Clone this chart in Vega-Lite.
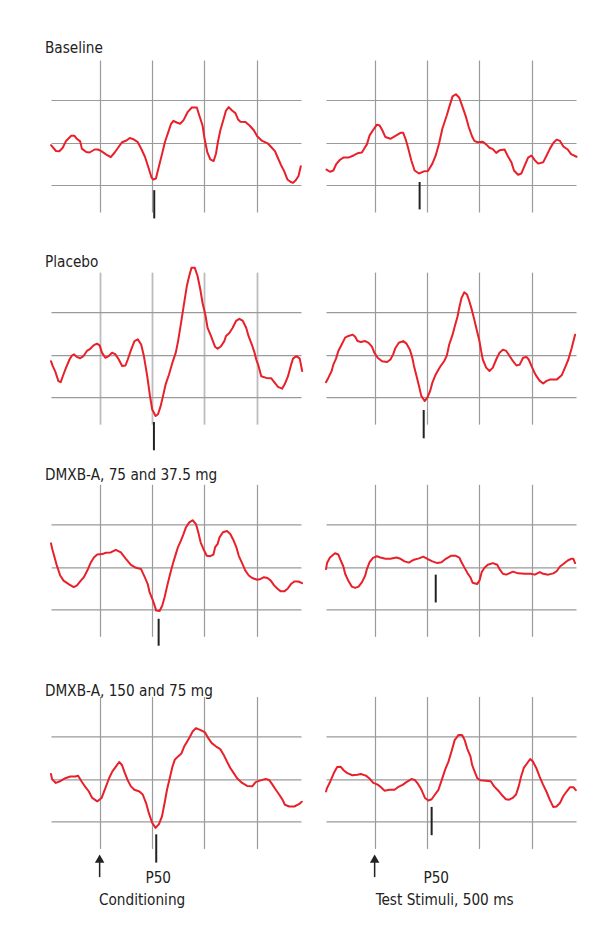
{
"$schema": "https://vega.github.io/schema/vega-lite/v6.json",
"background": "white",
"padding": {"left": 45, "top": 41, "right": 0, "bottom": 0},
"autosize": {"type": "pad"},
"config": {
  "view": {"stroke": null},
  "mark": {"clip": false},
  "axis": {"grid": true, "domain": false, "ticks": false, "labels": false, "title": null, "gridColor": "#9a9a9a", "gridWidth": 1.2, "gridOpacity": 1},
  "title": {"font": "DejaVu Sans Condensed", "fontSize": 15.2, "fontWeight": "normal", "color": "#222222", "anchor": "start", "frame": "group", "dx": -6, "baseline": "alphabetic"},
  "text": {"font": "DejaVu Sans Condensed", "fontSize": 15.2, "color": "#222222"},
  "line": {"color": "#e8202a", "strokeWidth": 2, "strokeJoin": "round", "strokeCap": "round", "clip": false}
},
"columns": 2,
"spacing": {"row": 60.15, "column": 25},
"bounds": "flush",
"datasets": {
"bc": [{"t":-46.5,"v":-0.06},{"t":-41.7,"v":-0.195},{"t":-38.5,"v":-0.2},{"t":-35.3,"v":-0.12},{"t":-32.1,"v":0.04},{"t":-27.2,"v":0.16},{"t":-24,"v":0.16},{"t":-21.8,"v":0.09},{"t":-18.6,"v":0.03},{"t":-17,"v":-0.14},{"t":-12.8,"v":-0.22},{"t":-9.6,"v":-0.23},{"t":-4.8,"v":-0.16},{"t":-1.6,"v":-0.16},{"t":1.6,"v":-0.2},{"t":6.4,"v":-0.28},{"t":10.6,"v":-0.34},{"t":14.4,"v":-0.23},{"t":17.6,"v":-0.12},{"t":21.5,"v":0.01},{"t":25.6,"v":0.05},{"t":28.8,"v":0.11},{"t":32.1,"v":0.08},{"t":36.2,"v":0.02},{"t":40.1,"v":-0.16},{"t":43.3,"v":-0.33},{"t":46.5,"v":-0.57},{"t":49.7,"v":-0.82},{"t":51.3,"v":-0.86},{"t":53.8,"v":-0.84},{"t":56.1,"v":-0.61},{"t":59.3,"v":-0.3},{"t":62.5,"v":0.02},{"t":65.7,"v":0.25},{"t":68.3,"v":0.44},{"t":70.5,"v":0.51},{"t":73.7,"v":0.47},{"t":76.9,"v":0.44},{"t":80.1,"v":0.52},{"t":84.3,"v":0.72},{"t":88.1,"v":0.82},{"t":92.9,"v":0.82},{"t":95.2,"v":0.64},{"t":98.4,"v":0.4},{"t":100.3,"v":0.09},{"t":102.9,"v":-0.22},{"t":105.8,"v":-0.39},{"t":109,"v":-0.43},{"t":111.2,"v":-0.26},{"t":113.1,"v":0.02},{"t":115.4,"v":0.29},{"t":118.6,"v":0.56},{"t":120.8,"v":0.75},{"t":123.4,"v":0.83},{"t":126.6,"v":0.75},{"t":129.8,"v":0.69},{"t":132.4,"v":0.54},{"t":134.6,"v":0.49},{"t":139.4,"v":0.48},{"t":143.3,"v":0.4},{"t":147.4,"v":0.29},{"t":150.6,"v":0.15},{"t":155.4,"v":0.04},{"t":160.3,"v":-0.01},{"t":163.5,"v":-0.09},{"t":167.6,"v":-0.2},{"t":169.9,"v":-0.33},{"t":173.1,"v":-0.51},{"t":176.3,"v":-0.66},{"t":179.5,"v":-0.86},{"t":182.7,"v":-0.92},{"t":184.9,"v":-0.94},{"t":187.5,"v":-0.88},{"t":190.1,"v":-0.78},{"t":192.3,"v":-0.55}],
"bt": [{"t":-46,"v":-0.63},{"t":-42.7,"v":-0.68},{"t":-39.5,"v":-0.65},{"t":-36.9,"v":-0.51},{"t":-33.1,"v":-0.4},{"t":-29.9,"v":-0.35},{"t":-25,"v":-0.35},{"t":-20.2,"v":-0.3},{"t":-15.4,"v":-0.24},{"t":-12.2,"v":-0.23},{"t":-9,"v":-0.1},{"t":-7.4,"v":-0.04},{"t":-4.8,"v":0.17},{"t":-1.6,"v":0.29},{"t":2.2,"v":0.42},{"t":4.8,"v":0.4},{"t":7.1,"v":0.3},{"t":10.3,"v":0.13},{"t":15.1,"v":0.09},{"t":19.9,"v":0.16},{"t":24.7,"v":0.23},{"t":27.3,"v":0.23},{"t":29.5,"v":0.09},{"t":31.8,"v":-0.1},{"t":35,"v":-0.41},{"t":38.2,"v":-0.65},{"t":42.4,"v":-0.72},{"t":47.2,"v":-0.67},{"t":51,"v":-0.66},{"t":55.2,"v":-0.49},{"t":58.4,"v":-0.3},{"t":61.6,"v":-0.02},{"t":64.8,"v":0.33},{"t":69,"v":0.64},{"t":71.3,"v":0.83},{"t":74.5,"v":1.08},{"t":77.7,"v":1.13},{"t":80.9,"v":1.05},{"t":84.1,"v":0.83},{"t":87.3,"v":0.6},{"t":89.9,"v":0.37},{"t":93.1,"v":0.15},{"t":95.3,"v":0.04},{"t":98.5,"v":0.01},{"t":103.4,"v":0.02},{"t":106.6,"v":-0.04},{"t":109.8,"v":-0.12},{"t":113,"v":-0.15},{"t":116.2,"v":-0.24},{"t":119.4,"v":-0.18},{"t":124.2,"v":-0.16},{"t":127.4,"v":-0.32},{"t":130.6,"v":-0.45},{"t":133.2,"v":-0.65},{"t":137.1,"v":-0.75},{"t":140.3,"v":-0.72},{"t":143.5,"v":-0.53},{"t":146.7,"v":-0.35},{"t":149.9,"v":-0.3},{"t":153.1,"v":-0.41},{"t":156.3,"v":-0.49},{"t":161.1,"v":-0.46},{"t":164.4,"v":-0.3},{"t":167.6,"v":-0.14},{"t":170.8,"v":-0.01},{"t":174,"v":0.07},{"t":177.2,"v":0.04},{"t":180.4,"v":-0.09},{"t":184.6,"v":-0.16},{"t":187.8,"v":-0.27},{"t":193,"v":-0.33}],
"pc": [{"t":-46.5,"v":-0.15},{"t":-44.9,"v":-0.26},{"t":-42.6,"v":-0.38},{"t":-39.4,"v":-0.615},{"t":-37.2,"v":-0.64},{"t":-34.6,"v":-0.46},{"t":-32.1,"v":-0.3},{"t":-28.8,"v":-0.11},{"t":-26.6,"v":-0.02},{"t":-24.4,"v":0.01},{"t":-21.8,"v":-0.05},{"t":-18.6,"v":-0.08},{"t":-15.4,"v":-0.03},{"t":-12.2,"v":0.09},{"t":-9,"v":0.14},{"t":-5.8,"v":0.22},{"t":-2.6,"v":0.26},{"t":0,"v":0.22},{"t":2.2,"v":0.05},{"t":5.4,"v":-0.07},{"t":8.7,"v":-0.03},{"t":11.9,"v":0.05},{"t":15.1,"v":0.01},{"t":18.3,"v":-0.11},{"t":21.5,"v":-0.26},{"t":24.7,"v":-0.25},{"t":26.9,"v":-0.11},{"t":30.1,"v":0.12},{"t":33.3,"v":0.32},{"t":36.5,"v":0.36},{"t":39.7,"v":0.24},{"t":42.3,"v":-0.03},{"t":45.5,"v":-0.5},{"t":48.1,"v":-0.96},{"t":50.3,"v":-1.28},{"t":53.5,"v":-1.43},{"t":55.8,"v":-1.39},{"t":58.3,"v":-1.2},{"t":60.9,"v":-0.93},{"t":63.1,"v":-0.69},{"t":66.3,"v":-0.46},{"t":69.5,"v":-0.19},{"t":72.8,"v":0.05},{"t":75,"v":0.32},{"t":77.6,"v":0.71},{"t":80.1,"v":1.1},{"t":83.3,"v":1.6},{"t":85.6,"v":1.84},{"t":87.8,"v":2.03},{"t":91,"v":2.03},{"t":93.6,"v":1.84},{"t":96.2,"v":1.53},{"t":98.4,"v":1.21},{"t":101,"v":0.94},{"t":103.2,"v":0.63},{"t":106.4,"v":0.44},{"t":110.3,"v":0.19},{"t":112.8,"v":0.14},{"t":116,"v":0.2},{"t":119.2,"v":0.32},{"t":120.8,"v":0.44},{"t":124,"v":0.51},{"t":127.2,"v":0.63},{"t":130.4,"v":0.79},{"t":133.6,"v":0.84},{"t":136.9,"v":0.79},{"t":140.1,"v":0.63},{"t":142.3,"v":0.44},{"t":145.5,"v":0.24},{"t":148.1,"v":0.05},{"t":149.7,"v":-0.11},{"t":151.9,"v":-0.26},{"t":154.5,"v":-0.5},{"t":159.3,"v":-0.54},{"t":164.1,"v":-0.55},{"t":167.3,"v":-0.65},{"t":170.5,"v":-0.75},{"t":174.4,"v":-0.79},{"t":176.9,"v":-0.69},{"t":180.1,"v":-0.5},{"t":182.7,"v":-0.26},{"t":184.9,"v":-0.09},{"t":188.1,"v":-0.03},{"t":191.3,"v":-0.09},{"t":193.6,"v":-0.38}],
"pt": [{"t":-46.5,"v":-0.64},{"t":-44.3,"v":-0.54},{"t":-41.1,"v":-0.38},{"t":-39.5,"v":-0.23},{"t":-36.9,"v":-0.09},{"t":-34.7,"v":0.09},{"t":-31.5,"v":0.24},{"t":-28.2,"v":0.4},{"t":-25,"v":0.44},{"t":-20.9,"v":0.47},{"t":-18.6,"v":0.42},{"t":-16.4,"v":0.32},{"t":-13.2,"v":0.3},{"t":-9,"v":0.32},{"t":-5.8,"v":0.28},{"t":-2.6,"v":0.19},{"t":-0.3,"v":0.05},{"t":2.9,"v":-0.07},{"t":7.1,"v":-0.15},{"t":11.9,"v":-0.17},{"t":15.1,"v":-0.11},{"t":17.7,"v":0.01},{"t":19.9,"v":0.16},{"t":23.1,"v":0.28},{"t":27.3,"v":0.32},{"t":30.5,"v":0.26},{"t":33.7,"v":0.12},{"t":36,"v":-0.07},{"t":37.6,"v":-0.26},{"t":40.1,"v":-0.5},{"t":42.4,"v":-0.73},{"t":44.6,"v":-0.96},{"t":47.8,"v":-1.08},{"t":50.4,"v":-1},{"t":53,"v":-0.85},{"t":55.2,"v":-0.65},{"t":58.4,"v":-0.46},{"t":62.6,"v":-0.28},{"t":66.4,"v":-0.15},{"t":69,"v":-0.02},{"t":71.3,"v":0.24},{"t":74.5,"v":0.47},{"t":76.7,"v":0.67},{"t":79.3,"v":0.9},{"t":80.9,"v":1.1},{"t":83.1,"v":1.33},{"t":85.7,"v":1.46},{"t":88.3,"v":1.41},{"t":90.5,"v":1.25},{"t":92.8,"v":1.06},{"t":95.3,"v":0.82},{"t":97.9,"v":0.55},{"t":100.2,"v":0.32},{"t":101.8,"v":0.09},{"t":103.4,"v":-0.11},{"t":106.6,"v":-0.3},{"t":109.8,"v":-0.38},{"t":113,"v":-0.3},{"t":116.2,"v":-0.11},{"t":119.4,"v":0.05},{"t":122.6,"v":0.12},{"t":125.8,"v":0.09},{"t":129,"v":-0.03},{"t":132.3,"v":-0.15},{"t":135.5,"v":-0.25},{"t":138.7,"v":-0.23},{"t":141.9,"v":-0.07},{"t":145.1,"v":-0.05},{"t":147.3,"v":-0.11},{"t":149.9,"v":-0.26},{"t":152.5,"v":-0.4},{"t":154.7,"v":-0.5},{"t":157.9,"v":-0.61},{"t":161.1,"v":-0.67},{"t":164.4,"v":-0.61},{"t":167.6,"v":-0.58},{"t":174,"v":-0.58},{"t":178.8,"v":-0.48},{"t":182,"v":-0.3},{"t":185.2,"v":-0.11},{"t":188.4,"v":0.16},{"t":191.6,"v":0.47}],
"lc": [{"t":-46.5,"v":0.55},{"t":-45.3,"v":0.42},{"t":-43.5,"v":0.26},{"t":-40.9,"v":0.03},{"t":-37.7,"v":-0.2},{"t":-34.5,"v":-0.32},{"t":-29.6,"v":-0.4},{"t":-24.8,"v":-0.47},{"t":-21.6,"v":-0.43},{"t":-18.4,"v":-0.33},{"t":-15.1,"v":-0.24},{"t":-11.9,"v":-0.09},{"t":-8.7,"v":0.09},{"t":-5.5,"v":0.22},{"t":-2.3,"v":0.29},{"t":2.6,"v":0.3},{"t":5.8,"v":0.33},{"t":10.6,"v":0.34},{"t":15.5,"v":0.4},{"t":20.3,"v":0.34},{"t":25.1,"v":0.19},{"t":29.9,"v":0.05},{"t":34.8,"v":-0.02},{"t":39.6,"v":-0.05},{"t":42.8,"v":-0.22},{"t":46,"v":-0.4},{"t":47.7,"v":-0.59},{"t":50.9,"v":-0.78},{"t":54.1,"v":-1.02},{"t":57.3,"v":-1.03},{"t":59.9,"v":-0.9},{"t":62.1,"v":-0.71},{"t":64.7,"v":-0.43},{"t":67,"v":-0.2},{"t":70.2,"v":0.09},{"t":72.8,"v":0.3},{"t":75,"v":0.47},{"t":77.6,"v":0.61},{"t":79.9,"v":0.75},{"t":82.4,"v":0.92},{"t":85.7,"v":1.04},{"t":88.9,"v":1.09},{"t":92.1,"v":1},{"t":94.3,"v":0.81},{"t":96.6,"v":0.57},{"t":99.2,"v":0.42},{"t":102.4,"v":0.26},{"t":105.6,"v":0.25},{"t":108.8,"v":0.29},{"t":110.4,"v":0.46},{"t":112.7,"v":0.53},{"t":114.6,"v":0.69},{"t":117.9,"v":0.81},{"t":121.7,"v":0.84},{"t":124.9,"v":0.77},{"t":128.2,"v":0.61},{"t":130.7,"v":0.46},{"t":133,"v":0.26},{"t":136.2,"v":0.09},{"t":139.4,"v":-0.09},{"t":142.6,"v":-0.2},{"t":145.9,"v":-0.26},{"t":150.7,"v":-0.3},{"t":153.9,"v":-0.28},{"t":157.1,"v":-0.24},{"t":160.4,"v":-0.26},{"t":163.6,"v":-0.32},{"t":166.8,"v":-0.43},{"t":170,"v":-0.51},{"t":173.2,"v":-0.57},{"t":176.5,"v":-0.57},{"t":179.7,"v":-0.51},{"t":182.9,"v":-0.4},{"t":186.1,"v":-0.34},{"t":190,"v":-0.34},{"t":193.5,"v":-0.38}],
"lt": [{"t":-46.5,"v":-0.05},{"t":-45.5,"v":0.09},{"t":-42.7,"v":0.22},{"t":-37.9,"v":0.32},{"t":-34.7,"v":0.29},{"t":-32.4,"v":0.15},{"t":-29.9,"v":0.01},{"t":-28.2,"v":-0.16},{"t":-25,"v":-0.33},{"t":-21.8,"v":-0.46},{"t":-18.6,"v":-0.49},{"t":-15.4,"v":-0.46},{"t":-12.2,"v":-0.36},{"t":-9,"v":-0.2},{"t":-7.4,"v":-0.05},{"t":-4.8,"v":0.11},{"t":-1.6,"v":0.21},{"t":2.2,"v":0.25},{"t":5.5,"v":0.22},{"t":10.3,"v":0.19},{"t":15.1,"v":0.19},{"t":20.9,"v":0.22},{"t":24.7,"v":0.19},{"t":28.6,"v":0.13},{"t":32.7,"v":0.1},{"t":37.6,"v":0.17},{"t":42.4,"v":0.2},{"t":46.5,"v":0.24},{"t":50.4,"v":0.19},{"t":55.2,"v":0.13},{"t":60,"v":0.09},{"t":63.9,"v":0.11},{"t":68.1,"v":0.19},{"t":72.9,"v":0.26},{"t":77.7,"v":0.26},{"t":80.9,"v":0.22},{"t":83.1,"v":0.11},{"t":85.7,"v":-0.01},{"t":88.9,"v":-0.15},{"t":91.5,"v":-0.24},{"t":93.7,"v":-0.37},{"t":97.9,"v":-0.4},{"t":100.2,"v":-0.32},{"t":102.4,"v":-0.12},{"t":105,"v":-0.02},{"t":108.2,"v":0.05},{"t":113,"v":0.09},{"t":117.2,"v":0.05},{"t":119.4,"v":-0.05},{"t":122.6,"v":-0.16},{"t":125.8,"v":-0.18},{"t":132.3,"v":-0.11},{"t":137.1,"v":-0.15},{"t":143.5,"v":-0.16},{"t":149.3,"v":-0.16},{"t":153.1,"v":-0.18},{"t":157.9,"v":-0.12},{"t":161.1,"v":-0.16},{"t":166,"v":-0.18},{"t":170.8,"v":-0.15},{"t":174,"v":-0.1},{"t":177.2,"v":0.01},{"t":180.4,"v":0.07},{"t":184.6,"v":0.15},{"t":187.8,"v":0.19},{"t":190,"v":0.19},{"t":191.6,"v":0.09}],
"hc": [{"t":-46.5,"v":0.12},{"t":-45.5,"v":0},{"t":-41.9,"v":-0.09},{"t":-37.7,"v":-0.05},{"t":-32.8,"v":0.02},{"t":-28,"v":0.06},{"t":-23.2,"v":0.06},{"t":-20.6,"v":0.08},{"t":-17.4,"v":-0.05},{"t":-13.5,"v":-0.19},{"t":-10.3,"v":-0.29},{"t":-7.1,"v":-0.44},{"t":-2.3,"v":-0.52},{"t":1.9,"v":-0.44},{"t":5.2,"v":-0.23},{"t":9,"v":0.02},{"t":12.2,"v":0.18},{"t":15.5,"v":0.29},{"t":18.7,"v":0.4},{"t":21.3,"v":0.33},{"t":23.5,"v":0.18},{"t":26.7,"v":-0.02},{"t":29.9,"v":-0.17},{"t":33.2,"v":-0.25},{"t":38,"v":-0.29},{"t":41.2,"v":-0.36},{"t":44.4,"v":-0.56},{"t":47,"v":-0.79},{"t":50.2,"v":-1.02},{"t":53.5,"v":-1.14},{"t":56.7,"v":-1.05},{"t":59.6,"v":-0.87},{"t":62.1,"v":-0.56},{"t":64.4,"v":-0.25},{"t":67,"v":0.02},{"t":69.6,"v":0.29},{"t":71.8,"v":0.45},{"t":75,"v":0.53},{"t":78.2,"v":0.6},{"t":80.8,"v":0.76},{"t":83.7,"v":0.88},{"t":86.3,"v":0.99},{"t":88.9,"v":1.11},{"t":92.1,"v":1.19},{"t":96,"v":1.15},{"t":100.8,"v":1.09},{"t":104,"v":0.95},{"t":107.2,"v":0.84},{"t":111.4,"v":0.76},{"t":115.3,"v":0.7},{"t":118.5,"v":0.57},{"t":121.7,"v":0.41},{"t":124.9,"v":0.26},{"t":128.2,"v":0.14},{"t":131.4,"v":0.02},{"t":136.2,"v":-0.09},{"t":141,"v":-0.16},{"t":145.9,"v":-0.17},{"t":149.1,"v":-0.07},{"t":153.9,"v":-0.03},{"t":158.7,"v":0},{"t":162,"v":-0.02},{"t":165.2,"v":-0.13},{"t":168.4,"v":-0.25},{"t":171.6,"v":-0.36},{"t":174.8,"v":-0.48},{"t":177.1,"v":-0.6},{"t":181.3,"v":-0.64},{"t":186.1,"v":-0.64},{"t":190.9,"v":-0.58},{"t":193.2,"v":-0.53}],
"ht": [{"t":-46.5,"v":-0.29},{"t":-45.5,"v":-0.21},{"t":-42.3,"v":-0.05},{"t":-39,"v":0.14},{"t":-35.8,"v":0.28},{"t":-32.6,"v":0.29},{"t":-29.4,"v":0.2},{"t":-26.1,"v":0.14},{"t":-21.3,"v":0.09},{"t":-16.5,"v":0.1},{"t":-13.2,"v":0.12},{"t":-8.4,"v":0.08},{"t":-5.2,"v":0.02},{"t":-1.3,"v":-0.09},{"t":2.9,"v":-0.13},{"t":6.1,"v":-0.19},{"t":9.4,"v":-0.27},{"t":14.2,"v":-0.25},{"t":19,"v":-0.25},{"t":22.3,"v":-0.19},{"t":27.1,"v":-0.13},{"t":30.3,"v":-0.07},{"t":35.2,"v":0},{"t":38.4,"v":-0.02},{"t":41.6,"v":-0.12},{"t":44.8,"v":-0.25},{"t":48.1,"v":-0.44},{"t":51.3,"v":-0.5},{"t":54.5,"v":-0.47},{"t":57.7,"v":-0.36},{"t":61,"v":-0.25},{"t":64.2,"v":-0.02},{"t":67.4,"v":0.22},{"t":70.6,"v":0.41},{"t":73.9,"v":0.68},{"t":76.5,"v":0.91},{"t":80.3,"v":1.03},{"t":83.6,"v":1.03},{"t":86.1,"v":0.91},{"t":88.4,"v":0.72},{"t":91.6,"v":0.53},{"t":93.2,"v":0.33},{"t":95.5,"v":0.18},{"t":98.1,"v":0.02},{"t":101.3,"v":-0.03},{"t":106.1,"v":-0.04},{"t":111,"v":-0.05},{"t":114.2,"v":-0.17},{"t":119,"v":-0.29},{"t":122.3,"v":-0.39},{"t":125.5,"v":-0.47},{"t":128.7,"v":-0.48},{"t":131.9,"v":-0.44},{"t":135.2,"v":-0.36},{"t":137.7,"v":-0.17},{"t":140,"v":0.06},{"t":142.6,"v":0.26},{"t":145.8,"v":0.37},{"t":148.7,"v":0.47},{"t":151.3,"v":0.41},{"t":154.5,"v":0.26},{"t":157.8,"v":0.05},{"t":161,"v":-0.13},{"t":164.2,"v":-0.29},{"t":167.4,"v":-0.48},{"t":170.7,"v":-0.65},{"t":173.9,"v":-0.64},{"t":177.1,"v":-0.56},{"t":180.3,"v":-0.4},{"t":183.5,"v":-0.29},{"t":186.8,"v":-0.19},{"t":190,"v":-0.19},{"t":192.3,"v":-0.26}]
},
"concat": [
{
  "width": 250, "height": 152,
  "title": {"text": "Baseline", "offset": 3.5},
  "encoding": {
    "x": {"field": "t", "type": "quantitative", "scale": {"domain": [-46.5, 192.5], "nice": false, "zero": false}, "axis": {"values": [0, 50, 100, 150]}},
    "y": {"field": "v", "type": "quantitative", "scale": {"domain": [-1.62, 1.93], "nice": false, "zero": false}, "axis": {"values": [-1, 0, 1]}}
  },
  "layer": [
    {"data": {"name": "bc"}, "mark": {"type": "line"}, "encoding": {}},
    {"data": {"values": [{"t": 52.2, "v": -1.77, "v2": -1.11}]}, "mark": {"type": "rule", "color": "#222222", "strokeWidth": 2}, "encoding": {"y2": {"field": "v2"}}}
  ]
},
{
  "width": 250, "height": 152,
  "encoding": {
    "x": {"field": "t", "type": "quantitative", "scale": {"domain": [-46.5, 192.5], "nice": false, "zero": false}, "axis": {"values": [0, 50, 100, 150]}},
    "y": {"field": "v", "type": "quantitative", "scale": {"domain": [-1.62, 1.93], "nice": false, "zero": false}, "axis": {"values": [-1, 0, 1]}}
  },
  "layer": [
    {"data": {"name": "bt"}, "mark": {"type": "line"}, "encoding": {}},
    {"data": {"values": [{"t": 43.0, "v": -1.56, "v2": -0.92}]}, "mark": {"type": "rule", "color": "#222222", "strokeWidth": 2}, "encoding": {"y2": {"field": "v2"}}}
  ]
},
{
  "width": 250, "height": 152,
  "title": {"text": "Placebo", "offset": -3.8},
  "encoding": {
    "x": {"field": "t", "type": "quantitative", "scale": {"domain": [-46.5, 192.5], "nice": false, "zero": false}, "axis": {"values": [0, 50, 100, 150], "gridColor": "#bcbcbc", "gridWidth": 1.8}},
    "y": {"field": "v", "type": "quantitative", "scale": {"domain": [-1.62, 1.93], "nice": false, "zero": false}, "axis": {"values": [-1, 0, 1]}}
  },
  "layer": [
    {"data": {"name": "pc"}, "mark": {"type": "line"}, "encoding": {}},
    {"data": {"values": [{"t": 51.9, "v": -2.23, "v2": -1.57}]}, "mark": {"type": "rule", "color": "#222222", "strokeWidth": 2}, "encoding": {"y2": {"field": "v2"}}}
  ]
},
{
  "width": 250, "height": 152,
  "encoding": {
    "x": {"field": "t", "type": "quantitative", "scale": {"domain": [-46.5, 192.5], "nice": false, "zero": false}, "axis": {"values": [0, 50, 100, 150]}},
    "y": {"field": "v", "type": "quantitative", "scale": {"domain": [-1.62, 1.93], "nice": false, "zero": false}, "axis": {"values": [-1, 0, 1]}}
  },
  "layer": [
    {"data": {"name": "pt"}, "mark": {"type": "line"}, "encoding": {}},
    {"data": {"values": [{"t": 46.9, "v": -1.95, "v2": -1.29}]}, "mark": {"type": "rule", "color": "#222222", "strokeWidth": 2}, "encoding": {"y2": {"field": "v2"}}}
  ]
},
{
  "width": 250, "height": 152,
  "title": {"text": "DMXB-A, 75 and 37.5 mg", "offset": 1.5},
  "encoding": {
    "x": {"field": "t", "type": "quantitative", "scale": {"domain": [-46.5, 192.5], "nice": false, "zero": false}, "axis": {"values": [0, 50, 100, 150]}},
    "y": {"field": "v", "type": "quantitative", "scale": {"domain": [-1.62, 1.93], "nice": false, "zero": false}, "axis": {"values": [-1, 0, 1]}}
  },
  "layer": [
    {"data": {"name": "lc"}, "mark": {"type": "line"}, "encoding": {}},
    {"data": {"values": [{"t": 56.4, "v": -1.84, "v2": -1.21}]}, "mark": {"type": "rule", "color": "#222222", "strokeWidth": 2}, "encoding": {"y2": {"field": "v2"}}}
  ]
},
{
  "width": 250, "height": 152,
  "encoding": {
    "x": {"field": "t", "type": "quantitative", "scale": {"domain": [-46.5, 192.5], "nice": false, "zero": false}, "axis": {"values": [0, 50, 100, 150]}},
    "y": {"field": "v", "type": "quantitative", "scale": {"domain": [-1.62, 1.93], "nice": false, "zero": false}, "axis": {"values": [-1, 0, 1]}}
  },
  "layer": [
    {"data": {"name": "lt"}, "mark": {"type": "line"}, "encoding": {}},
    {"data": {"values": [{"t": 58.4, "v": -0.83, "v2": -0.18}]}, "mark": {"type": "rule", "color": "#222222", "strokeWidth": 2}, "encoding": {"y2": {"field": "v2"}}}
  ]
},
{
  "width": 250, "height": 152,
  "title": {"text": "DMXB-A, 150 and 75 mg", "offset": -2.5},
  "encoding": {
    "x": {"field": "t", "type": "quantitative", "scale": {"domain": [-46.5, 192.5], "nice": false, "zero": false}, "axis": {"values": [0, 50, 100, 150]}},
    "y": {"field": "v", "type": "quantitative", "scale": {"domain": [-1.62, 1.93], "nice": false, "zero": false}, "axis": {"values": [-1, 0, 1]}}
  },
  "layer": [
    {"data": {"name": "hc"}, "mark": {"type": "line"}, "encoding": {}},
    {"data": {"values": [{"t": 54.1, "v": -1.95, "v2": -1.29}]}, "mark": {"type": "rule", "color": "#222222", "strokeWidth": 2}, "encoding": {"y2": {"field": "v2"}}},
    {"data": {"values": [{"t": 0, "v": -2.29, "v2": -1.9}]}, "mark": {"type": "rule", "color": "#222222", "strokeWidth": 1.5}, "encoding": {"y2": {"field": "v2"}}},
    {"data": {"values": [{"t": 0, "v": -1.86}]}, "mark": {"type": "point", "shape": "triangle-up", "filled": true, "color": "#222222", "size": 90, "opacity": 1}, "encoding": {}},
    {"data": {"values": [{"t": 56.0, "v": -2.31, "label": "P50"}]}, "mark": {"type": "text", "align": "center", "baseline": "middle"}, "encoding": {"text": {"field": "label"}}},
    {"data": {"values": [{"t": -0.7, "v": -2.83, "label": "Conditioning"}]}, "mark": {"type": "text", "align": "left", "baseline": "middle"}, "encoding": {"text": {"field": "label"}}}
  ]
},
{
  "width": 250, "height": 152,
  "encoding": {
    "x": {"field": "t", "type": "quantitative", "scale": {"domain": [-46.5, 192.5], "nice": false, "zero": false}, "axis": {"values": [0, 50, 100, 150]}},
    "y": {"field": "v", "type": "quantitative", "scale": {"domain": [-1.62, 1.93], "nice": false, "zero": false}, "axis": {"values": [-1, 0, 1]}}
  },
  "layer": [
    {"data": {"name": "ht"}, "mark": {"type": "line"}, "encoding": {}},
    {"data": {"values": [{"t": 54.5, "v": -1.31, "v2": -0.65}]}, "mark": {"type": "rule", "color": "#222222", "strokeWidth": 2}, "encoding": {"y2": {"field": "v2"}}},
    {"data": {"values": [{"t": 0, "v": -2.29, "v2": -1.9}]}, "mark": {"type": "rule", "color": "#222222", "strokeWidth": 1.5}, "encoding": {"y2": {"field": "v2"}}},
    {"data": {"values": [{"t": 0, "v": -1.86}]}, "mark": {"type": "point", "shape": "triangle-up", "filled": true, "color": "#222222", "size": 90, "opacity": 1}, "encoding": {}},
    {"data": {"values": [{"t": 58.9, "v": -2.31, "label": "P50"}]}, "mark": {"type": "text", "align": "center", "baseline": "middle"}, "encoding": {"text": {"field": "label"}}},
    {"data": {"values": [{"t": 1.0, "v": -2.83, "label": "Test Stimuli, 500 ms"}]}, "mark": {"type": "text", "align": "left", "baseline": "middle"}, "encoding": {"text": {"field": "label"}}}
  ]
}
]
}
